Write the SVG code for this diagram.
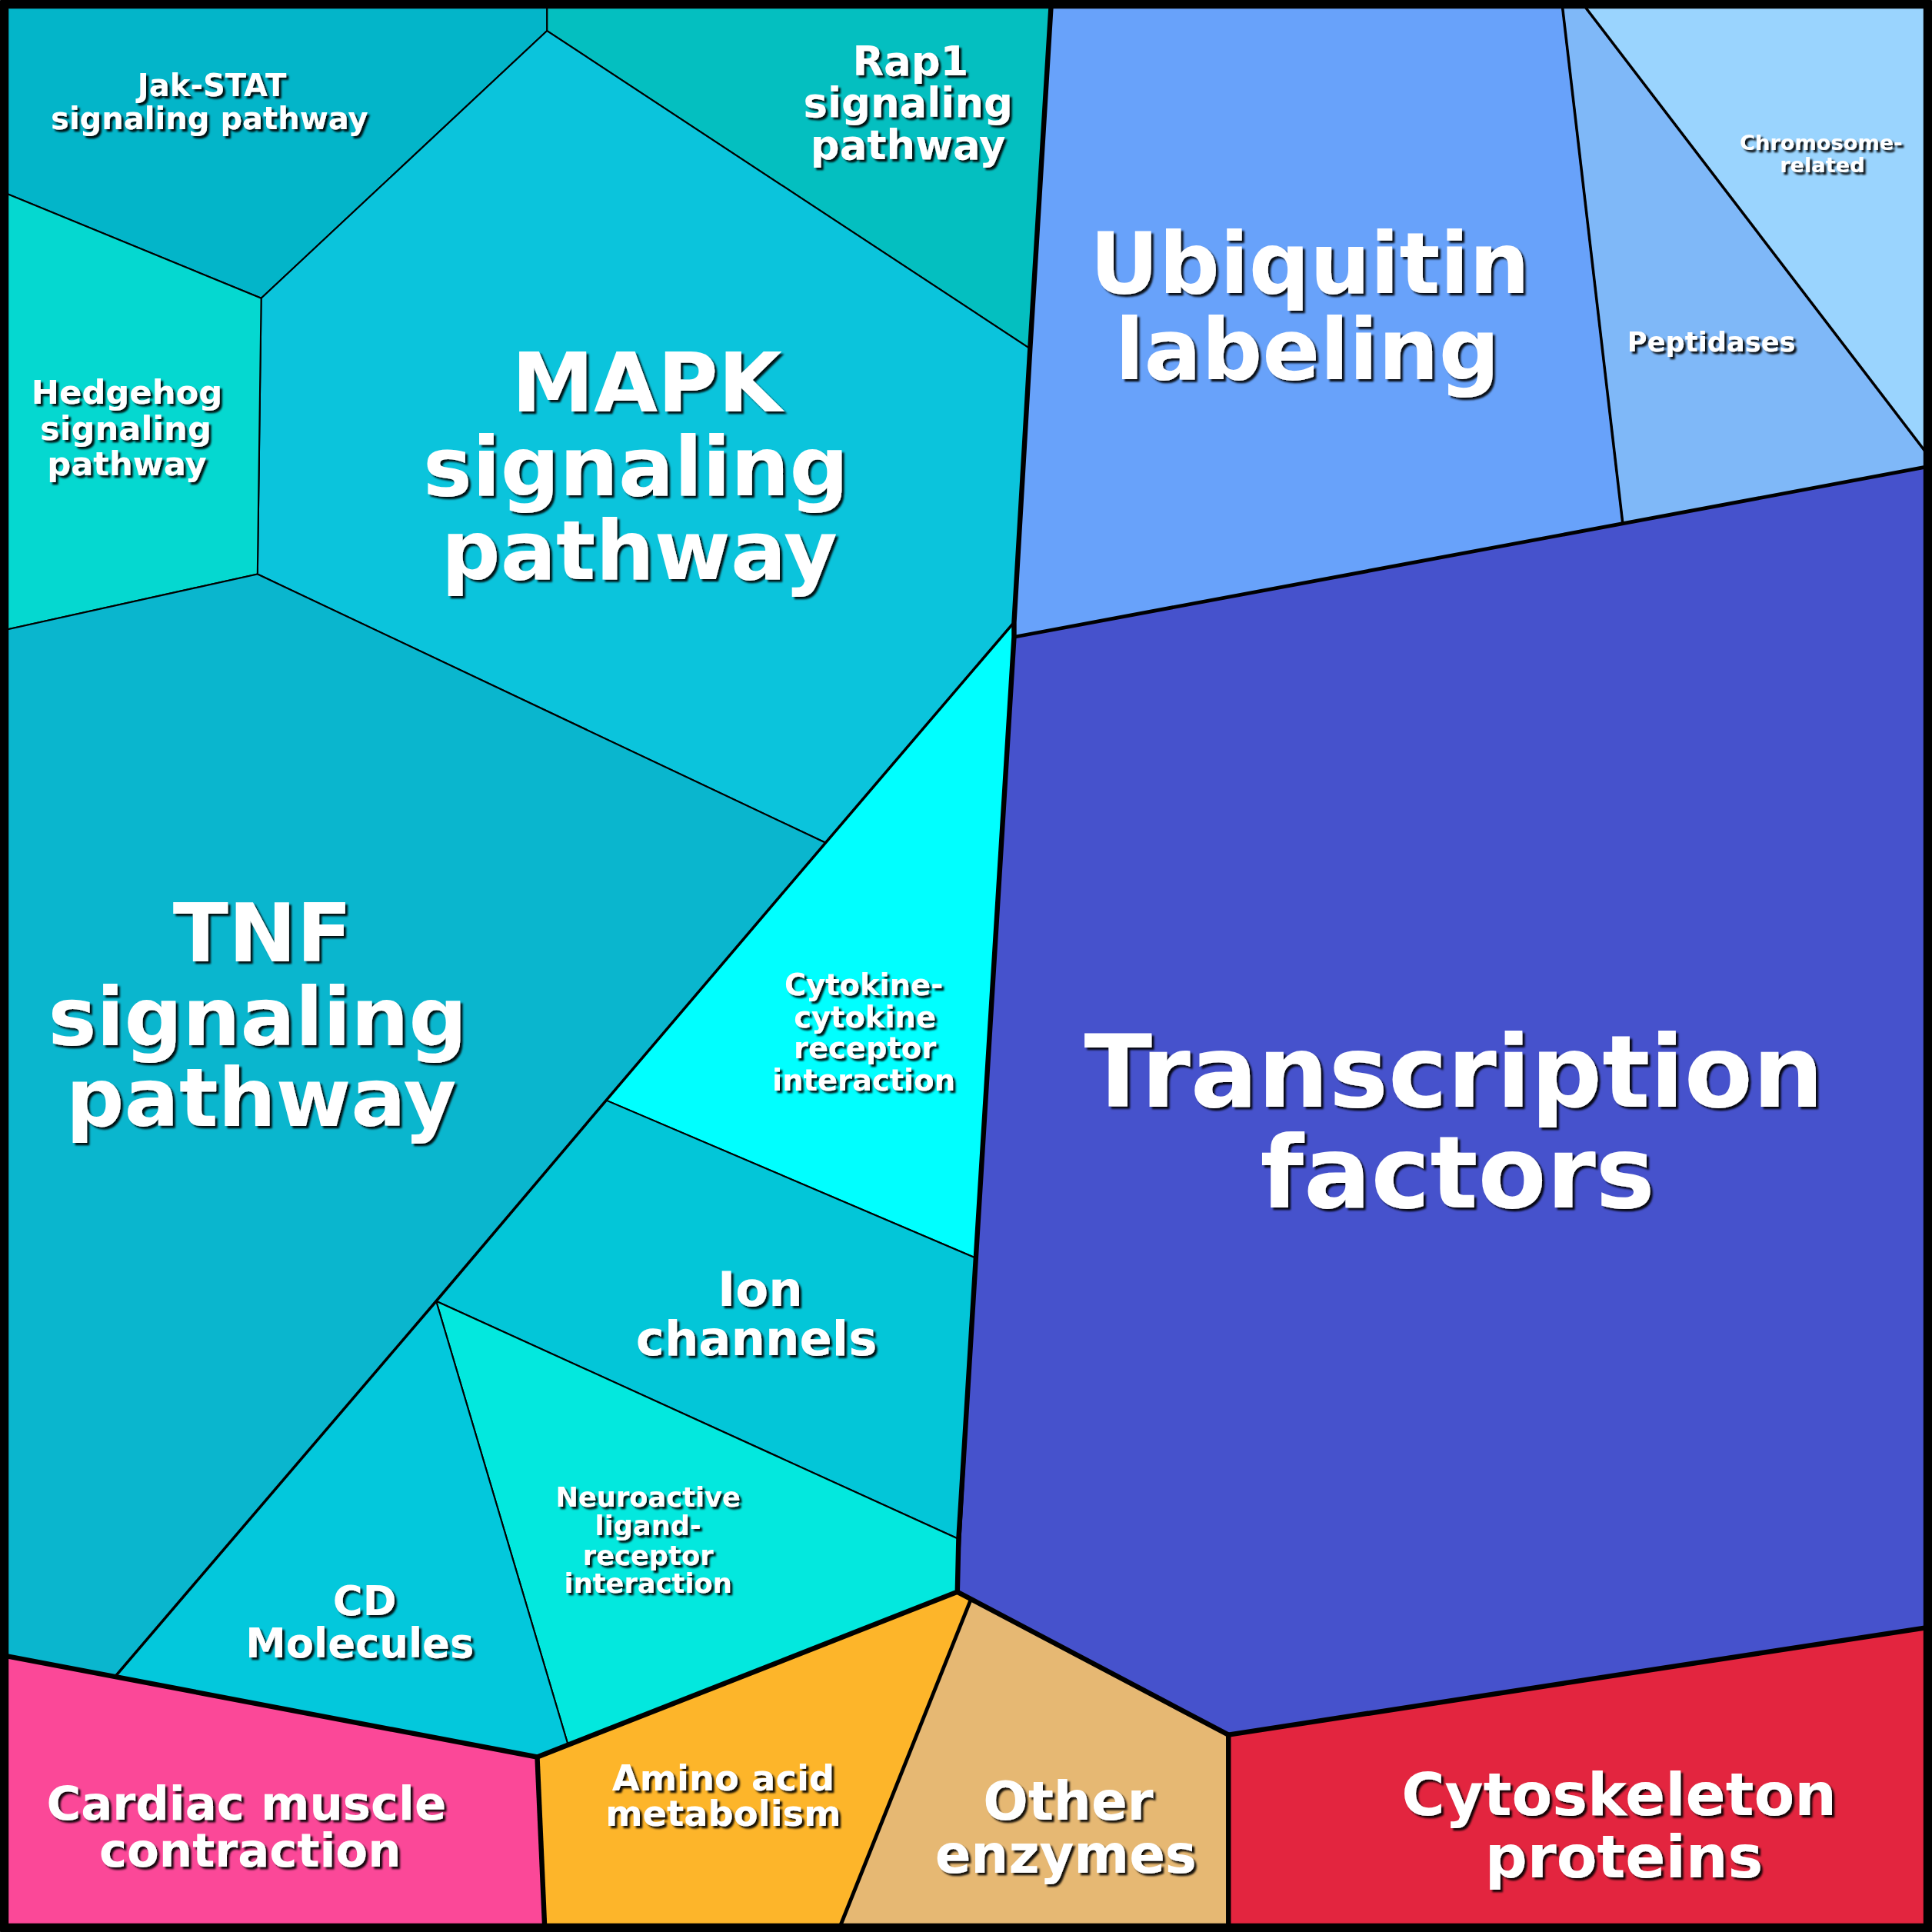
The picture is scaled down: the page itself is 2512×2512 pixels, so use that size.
<svg xmlns="http://www.w3.org/2000/svg" width="2512" height="2512" viewBox="0 0 2512 2512">
<defs>
<filter id="sh" x="-10%" y="-10%" width="120%" height="130%"><feDropShadow dx="2" dy="2" stdDeviation="0.8" flood-color="#000" flood-opacity="0.9"/></filter>
<style>
.c{stroke:#000;stroke-width:1.3;stroke-linejoin:round}
text{font-family:"DejaVu Sans",sans-serif;font-weight:bold;fill:#fff;text-anchor:middle;filter:url(#sh)}
.t{fill:none;stroke:#000;stroke-linejoin:round}
</style>
</defs>
<g transform="scale(1.60204)">
<g id="jak"><polygon class="c" fill="#03b5c9" points="5,5 444,5 444,25 212,242 5,157"/><text font-size="25"><tspan x="172" y="78">Jak-STAT</tspan><tspan x="170" y="105">signaling pathway</tspan></text></g>
<g id="rap1"><polygon class="c" fill="#04bfc0" points="444,5 853,5 836,283 444,25"/><text font-size="33"><tspan x="739" y="61">Rap1</tspan><tspan x="737" y="95">signaling</tspan><tspan x="737" y="129">pathway</tspan></text></g>
<g id="mapk"><polygon class="c" fill="#0bc4dc" points="444,25 836,283 823,505 670,684 209,466 212,242"/><text font-size="67"><tspan x="525" y="334">MAPK</tspan><tspan x="516" y="402">signaling</tspan><tspan x="519" y="470">pathway</tspan></text></g>
<g id="hedgehog"><polygon class="c" fill="#05d8d0" points="5,157 212,242 209,466 5,511"/><text font-size="27"><tspan x="103" y="328">Hedgehog</tspan><tspan x="102" y="357">signaling</tspan><tspan x="103" y="386">pathway</tspan></text></g>
<g id="tnf"><polygon class="c" fill="#0ab6ce" points="5,511 209,466 670,684 492,893 354,1056 94,1360 5,1344"/><text font-size="66"><tspan x="213" y="780">TNF</tspan><tspan x="209" y="848">signaling</tspan><tspan x="212" y="914">pathway</tspan></text></g>
<g id="cytokine"><polygon class="c" fill="#00ffff" points="670,684 823,505 792,1021 492,893"/><text font-size="24"><tspan x="701" y="808">Cytokine-</tspan><tspan x="702" y="834">cytokine</tspan><tspan x="702" y="859">receptor</tspan><tspan x="701" y="885">interaction</tspan></text></g>
<g id="ion"><polygon class="c" fill="#03c6d8" points="492,893 792,1021 778,1249 354,1056"/><text font-size="39"><tspan x="617" y="1060">Ion</tspan><tspan x="614" y="1100">channels</tspan></text></g>
<g id="neuro"><polygon class="c" fill="#03e8de" points="354,1056 778,1249 777,1292 461,1416"/><text font-size="22"><tspan x="526" y="1223">Neuroactive</tspan><tspan x="526" y="1246">ligand-</tspan><tspan x="526" y="1270">receptor</tspan><tspan x="526" y="1293">interaction</tspan></text></g>
<g id="cd"><polygon class="c" fill="#03c8dc" points="94,1360 354,1056 461,1416 436,1426"/><text font-size="33"><tspan x="296" y="1311">CD</tspan><tspan x="292" y="1345">Molecules</tspan></text></g>
<g id="cardiac"><polygon class="c" fill="#fb4898" points="5,1344 436,1426 442,1563 5,1563"/><text font-size="38"><tspan x="200" y="1477">Cardiac muscle</tspan><tspan x="203" y="1515">contraction</tspan></text></g>
<g id="amino"><polygon class="c" fill="#fdb52a" points="436,1426 777,1292 788,1298 682,1563 442,1563"/><text font-size="29"><tspan x="587" y="1453">Amino acid</tspan><tspan x="587" y="1482">metabolism</tspan></text></g>
<g id="other"><polygon class="c" fill="#e6b873" points="788,1298 997,1408 997,1563 682,1563"/><text font-size="43"><tspan x="867" y="1477">Other</tspan><tspan x="865" y="1520">enzymes</tspan></text></g>
<g id="cytoskeleton"><polygon class="c" fill="#e3253f" points="997,1408 1563,1321 1563,1563 997,1563"/><text font-size="48"><tspan x="1314" y="1473">Cytoskeleton</tspan><tspan x="1318" y="1524">proteins</tspan></text></g>
<g id="transcription"><polygon class="c" fill="#4652cc" points="823,517 1563,379 1563,1321 997,1408 788,1298 777,1292 792,1021 823,505"/><text font-size="81"><tspan x="1180" y="898">Transcription</tspan><tspan x="1183" y="980">factors</tspan></text></g>
<g id="ubiquitin"><polygon class="c" fill="#68a2fa" points="853,5 1268,5 1317,425 823,517 836,283"/><text font-size="69"><tspan x="1063" y="238">Ubiquitin</tspan><tspan x="1061" y="308">labeling</tspan></text></g>
<g id="peptidases"><polygon class="c" fill="#7fb8f8" points="1268,5 1286,5 1563,367 1563,379 1317,425"/><text font-size="22" x="1389" y="285">Peptidases</text></g>
<g id="chromosome"><polygon class="c" fill="#9ad4fe" points="1286,5 1563,5 1563,367"/><text font-size="17"><tspan x="1478" y="122">Chromosome-</tspan><tspan x="1479" y="140">related</tspan></text></g>
<g id="connectors">
<polyline class="t" stroke-width="2.2" points="823,505 670,684 492,893 354,1056 94,1360"/>
<polyline class="t" stroke-width="2.2" points="1268,5 1317,425"/>
<polyline class="t" stroke-width="2.2" points="1286,5 1563,367"/>
<polyline class="t" stroke-width="4" points="853,5 836,283 823,505 823,517 792,1021 778,1249 777,1292 436,1426 5,1344"/>
<polyline class="t" stroke-width="4" points="777,1292 997,1408 997,1563"/>
<polyline class="t" stroke-width="4" points="997,1408 1563,1321"/>
<polyline class="t" stroke-width="3" points="788,1298 682,1563"/>
<polyline class="t" stroke-width="4" points="436,1426 442,1563"/>
<polyline class="t" stroke-width="3" points="823,517 1563,379"/>
<rect class="t" stroke-width="8" x="3" y="3" width="1562" height="1562"/>
</g>
</g>
</svg>
